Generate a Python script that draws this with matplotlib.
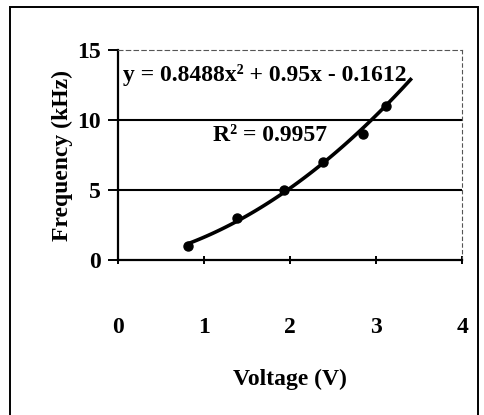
import numpy as np
import matplotlib.pyplot as plt
from matplotlib.patches import Rectangle

plt.rcParams['font.family'] = ['Liberation Serif', 'DejaVu Serif']
plt.rcParams['font.weight'] = 'bold'

voltage = [0.82, 1.38, 1.93, 2.38, 2.85, 3.12]
frequency = [1.0, 3.0, 5.0, 7.0, 9.0, 11.0]
coeffs = [0.8488, 0.95, -0.1612]
fit_range = [0.82, 3.4]

fig = plt.figure(figsize=(4.85, 4.15), dpi=100)
ax = fig.add_axes([0.243, 0.373, 0.710, 0.507])

# trendline from the fitted coefficients
xs = np.linspace(fit_range[0], fit_range[1], 100)
ax.plot(xs, np.polyval(coeffs, xs), color='black', lw=2.6)
ax.plot(voltage, frequency, 'o', color='black', ms=6.5)

ax.set_xlim(0, 4)
ax.set_ylim(0, 15)
ax.set_xticks([0, 1, 2, 3, 4])
ax.set_yticks([0, 5, 10, 15])
for y in [5, 10]:
    ax.axhline(y, color='black', lw=1.5)

ax.spines['top'].set_linestyle((0, (4, 3)))
ax.spines['top'].set_color('#555555')
ax.spines['right'].set_linestyle((0, (3, 3)))
ax.spines['right'].set_color('#555555')
ax.spines['left'].set_linewidth(1.6)
ax.spines['bottom'].set_linewidth(1.6)

ax.tick_params(axis='y', direction='out', length=7, width=1.4, pad=5, labelsize=17)
ax.tick_params(axis='x', direction='inout', length=6, width=1.4, pad=38, labelsize=17)

ax.set_xlabel('Voltage (V)', fontsize=17, fontweight='bold', labelpad=22)
ax.set_ylabel('Frequency (kHz)', fontsize=17, fontweight='bold', labelpad=3)

ax.text(0.06, 13.2, 'y = 0.8488x² + 0.95x - 0.1612', fontsize=17,
        fontweight='bold', va='center', ha='left')
ax.text(1.1, 8.9, 'R² = 0.9957', fontsize=17, fontweight='bold',
        va='center', ha='left')

fig.patches.append(Rectangle((0.021, -0.05), 0.965, 1.033, transform=fig.transFigure,
                             fill=False, edgecolor='black', lw=1.4))

fig.savefig('out.png', dpi=100)
